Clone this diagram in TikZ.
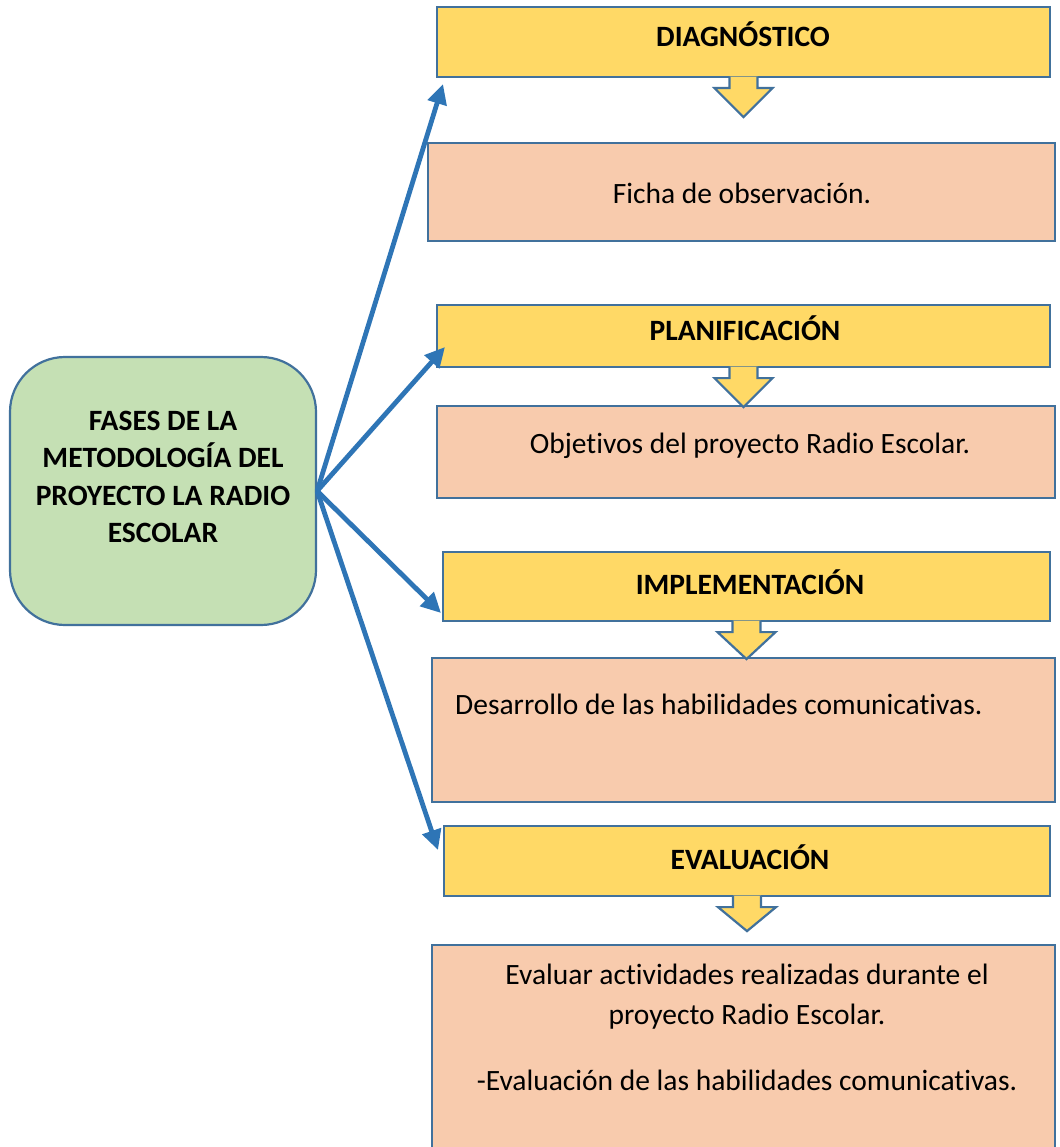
\documentclass[tikz,border=0pt]{standalone}
\usepackage{fontspec}
\setmainfont{Carlito}[RawFeature=-liga]
\usetikzlibrary{arrows.meta,calc}
\definecolor{ylw}{HTML}{FFD966}
\definecolor{salm}{HTML}{F8CBAD}
\definecolor{grn}{HTML}{C5E0B4}
\definecolor{bord}{HTML}{41719C}
\definecolor{arr}{HTML}{2E75B6}
\tikzset{
  ybox/.style={draw=bord, fill=ylw, line width=2.2pt, inner sep=0pt},
  sbox/.style={draw=bord, fill=salm, line width=2.2pt, inner sep=0pt},
  gbox/.style={draw=bord, fill=grn, line width=2.2pt, rounded corners=55pt, inner sep=0pt},
  txt/.style={font=\fontsize{29.5}{37.5}\selectfont, inner sep=0pt, text height=0.7em, text depth=0.2em},
  btxt/.style={txt, font=\fontsize{29.5}{37.5}\selectfont\bfseries},
  conn/.style={draw=arr, line width=4.8pt, -{Triangle[length=20pt,width=19pt]}},
  barrow/.style={fill=ylw, draw=bord, line width=2.2pt, line join=miter}
}
\newcommand\blockarr[2]{%
  \path[barrow] ([xshift=-14pt,yshift=1.5pt]#1.south) -- ++(0,11.5) -- ++(-15,0) -- ++(29,#2) -- ++(29,-#2) -- ++(-15,0) -- ++(0,-11.5);}
\begin{document}
\begin{tikzpicture}[x=1pt,y=-1pt]
\useasboundingbox (0,0) rectangle (1059,1147);
\clip (0,0) rectangle (1059,1147);
\fill[white] (0,0) rectangle (1059,1147);
% green box
\node[gbox, minimum width=306pt, minimum height=268pt] (g) at (163,491) {};
\node[btxt, align=center, text height=, text depth=] (gt) at (163,477) {FASES DE LA\\METODOLOGÍA DEL\\PROYECTO LA RADIO\\ESCOLAR};
% yellow and salmon boxes
\node[ybox, minimum width=613pt, minimum height=70pt] (y1) at (743.5,42) {};
\node[btxt] (y1t) at (743,44) {DIAGNÓSTICO};
\node[sbox, minimum width=627pt, minimum height=98pt] (s1) at (741.5,192) {};
\node[txt] (s1t) at (742,201) {Ficha de observación.};
\node[ybox, minimum width=613pt, minimum height=62pt] (y2) at (743.5,336) {};
\node[btxt] (y2t) at (745,338) {PLANIFICACIÓN};
\node[sbox, minimum width=618pt, minimum height=92pt] (s2) at (746,452) {};
\node[txt] (s2t) at (750,451) {Objetivos del proyecto Radio Escolar.};
\node[ybox, minimum width=607pt, minimum height=69pt] (y3) at (746.5,586.5) {};
\node[btxt] (y3t) at (750,592) {IMPLEMENTACIÓN};
\node[sbox, minimum width=623pt, minimum height=144pt] (s3) at (743.5,730) {};
\node[txt, anchor=west] (s3t) at (455,712) {Desarrollo de las habilidades comunicativas.};
\node[ybox, minimum width=606pt, minimum height=70pt] (y4) at (747,861) {};
\node[btxt] (y4t) at (750,867) {EVALUACIÓN};
\node[sbox, minimum width=623pt, minimum height=220pt] (s4) at (743.5,1055) {};
\node[txt, align=center, text height=, text depth=] (s4t) at (747,997) {Evaluar actividades realizadas durante el\\[2.5pt]proyecto Radio Escolar.};
\node[txt] (s4u) at (747,1088) {-Evaluación de las habilidades comunicativas.};
% block arrows
\blockarr{y1}{29}
\blockarr{y2}{29}
\blockarr{y3}{27}
\blockarr{y4}{24}
% connectors
\coordinate (t1) at (443,84);
\coordinate (t2) at (445,347);
\coordinate (t3) at (441,613);
\coordinate (t4) at (438,850);
\draw[conn] (g.east) -- (t1);
\draw[conn] (g.east) -- (t2);
\draw[conn] (g.east) -- (t3);
\draw[conn] (g.east) -- (t4);
\end{tikzpicture}
\end{document}
